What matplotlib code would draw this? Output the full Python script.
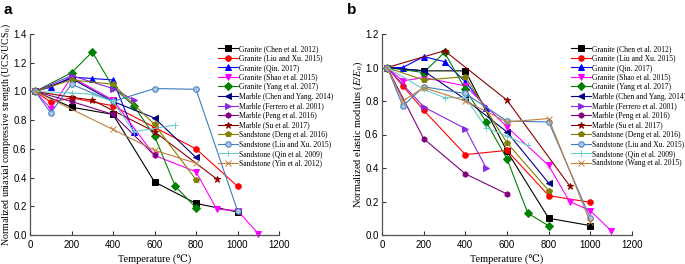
import matplotlib
matplotlib.use("Agg")
import matplotlib.pyplot as plt

# =========================
# Data
# =========================
labels_a = [
    "Granite (Chen et al. 2012)", "Granite (Liu and Xu. 2015)", "Granite (Qin. 2017)",
    "Granite (Shao et al. 2015)", "Granite (Yang et al. 2017)", "Marble (Chen and Yang. 2014)",
    "Marble (Ferrero et al. 2001)", "Marble (Peng et al. 2016)", "Marble (Su et al. 2017)",
    "Sandstone (Deng et al. 2016)", "Sandstone (Liu and Xu. 2015)", "Sandstone (Qin et al. 2009)",
    "Sandstone (Yin et al. 2012)",
]
labels_b = labels_a[:12] + ["Sandstone (Wang et al. 2015)"]

colors = ["black", "red", "blue", "magenta", "green", "#000080", "#8A2BE2",
          "#800080", "#8B0000", "#808000", "#3D7EBF", "#6CCBCB", "#C08040"]
markers = ["s", "o", "^", "v", "D", "<", ">", "h", "*", "p", "o", "+", "x"]

# panel a: UCS/UCS0
temp_a = [
    [25, 200, 400, 600, 800, 1000],
    [25, 100, 200, 400, 600, 800, 1000],
    [25, 100, 200, 300, 400, 500],
    [25, 100, 200, 400, 600, 800, 900, 1000, 1100],
    [25, 200, 300, 400, 500, 600, 700, 800],
    [25, 200, 400, 600, 800],
    [25, 200, 400, 500],
    [25, 200, 400, 600],
    [25, 200, 300, 600, 900],
    [25, 200, 400, 600, 800],
    [25, 100, 200, 400, 600, 800, 1000],
    [25, 200, 300, 400, 500, 700],
    [25, 400, 600, 800],
]
ucs = [
    [1.0, 0.89, 0.84, 0.37, 0.22, 0.16],
    [1.0, 0.925, 0.955, 0.90, 0.75, 0.60, 0.34],
    [1.0, 1.03, 1.10, 1.09, 1.08, 0.715],
    [1.0, 0.88, 1.10, 0.94, 0.555, 0.44, 0.18, 0.17, 0.01],
    [1.0, 1.13, 1.275, 1.03, 0.90, 0.69, 0.34, 0.19],
    [1.0, 1.09, 0.93, 0.815, 0.54],
    [1.0, 1.11, 1.02, 0.94],
    [1.0, 0.93, 0.84, 0.555],
    [1.0, 0.96, 0.94, 0.72, 0.39],
    [1.0, 1.08, 1.05, 0.77, 0.385],
    [1.0, 0.85, 1.05, 0.93, 1.02, 1.015, 0.17],
    [1.0, 0.99, 0.98, 0.93, 0.72, 0.765],
    [1.0, 0.735, 0.59, 0.50],
]

# panel b: E/E0
temp_b = [
    [25, 200, 400, 600, 800, 1000],
    [25, 100, 200, 400, 600, 800, 1000],
    [25, 100, 200, 300, 400, 500],
    [25, 100, 200, 400, 600, 800, 900, 1000, 1100],
    [25, 200, 300, 400, 500, 600, 700, 800],
    [25, 200, 400, 600, 800],
    [25, 200, 400, 500],
    [25, 200, 400, 600],
    [25, 300, 600, 900],
    [25, 200, 400, 600, 800],
    [25, 100, 200, 400, 600, 800, 1000],
    [25, 200, 300, 400, 500, 600, 700],
    [25, 100, 200, 400, 600, 800, 1000],
]
modulus = [
    [1.0, 0.98, 0.98, 0.50, 0.10, 0.056],
    [1.0, 0.89, 0.745, 0.48, 0.505, 0.235, 0.195],
    [1.0, 1.0, 1.065, 1.035, 0.915, 0.76],
    [1.0, 0.92, 0.94, 0.89, 0.645, 0.415, 0.20, 0.145, 0.025],
    [1.0, 0.97, 1.09, 0.87, 0.675, 0.455, 0.13, 0.055],
    [1.0, 0.98, 0.81, 0.615, 0.31],
    [1.0, 0.765, 0.635, 0.40],
    [1.0, 0.575, 0.365, 0.245],
    [1.0, 1.10, 0.805, 0.295],
    [1.0, 0.925, 0.945, 0.55, 0.265],
    [1.0, 0.77, 0.885, 0.845, 0.68, 0.675, 0.10],
    [1.0, 0.87, 0.82, 0.82, 0.64, 0.59, 0.535],
    [1.0, 0.80, 0.88, 0.80, 0.675, 0.695, 0.075],
]

serif = ["Liberation Serif", "DejaVu Serif"]
plt.rcParams["font.family"] = ["Liberation Sans", "DejaVu Sans"]
plt.rcParams["mathtext.fontset"] = "stix"

fig = plt.figure(figsize=(6.85, 2.64), dpi=100)
ax_a = fig.add_axes([30 / 685, 29 / 264, 249 / 685, 201 / 264])
ax_b = fig.add_axes([382 / 685, 29 / 264, 250 / 685, 201 / 264])


def draw(ax, temps, vals, labels, ymax, ylabel, ylabel_size, legend_x):
    for i in range(len(labels)):
        face = colors[i]
        if i == 10:
            face = "#A9C8E8"
        ax.plot(temps[i], vals[i], color=colors[i], marker=markers[i],
                markersize=4 if markers[i] not in ("*", "+", "x") else 5,
                markerfacecolor=face, markeredgecolor=colors[i],
                markeredgewidth=0.7, linewidth=0.8, label=labels[i],
                clip_on=False)
    ax.set_xlim(0, 1200)
    ax.set_ylim(0, ymax)
    ax.set_xticks(range(0, 1201, 200))
    n = int(round(ymax / 0.2)) + 1
    ax.set_yticks([round(0.2 * k, 1) for k in range(n)])
    ax.set_yticklabels([f"{0.2 * k:.1f}" for k in range(n)])
    ax.tick_params(direction="in", length=3, width=0.8, labelsize=7, colors="#333333",
                   labelcolor="black")
    ax.tick_params(axis="y", pad=2.5)
    for s in ("top", "right"):
        ax.spines[s].set_visible(False)
    for s in ("left", "bottom"):
        ax.spines[s].set_color("#555555")
        ax.spines[s].set_linewidth(0.9)
    ax.set_xlabel("Temperature (℃)", family=serif, fontsize=7.5, labelpad=4)
    ax.set_ylabel(ylabel, family=serif, fontsize=ylabel_size, va="center")
    # centre of the y label about 24 px left of the axis line
    ax.yaxis.set_label_coords(-24 / 249, 0.5)
    fig.legend(handles=ax.get_lines(), labels=labels, loc="upper left",
               bbox_to_anchor=(legend_x / 685, 1 - 42 / 264), frameon=False,
               prop={"family": serif, "size": 5.5}, handlelength=2.6,
               handletextpad=0.15, labelspacing=0.2, borderaxespad=0)


draw(ax_a, temp_a, ucs, labels_a, 1.4,
     "Normalized uniaxial compressive strength (UCS/UCS$_0$)", 7.1, 215)
draw(ax_b, temp_b, modulus, labels_b, 1.2,
     "Normalized elastic modulus ($E/E_0$)", 7.5, 568)

fig.text(3 / 685, 1 - 3 / 264, "a", fontsize=11, fontweight="bold", va="top")
fig.text(347 / 685, 1 - 3 / 264, "b", fontsize=11, fontweight="bold", va="top")

fig.savefig("out.png", dpi=100)
